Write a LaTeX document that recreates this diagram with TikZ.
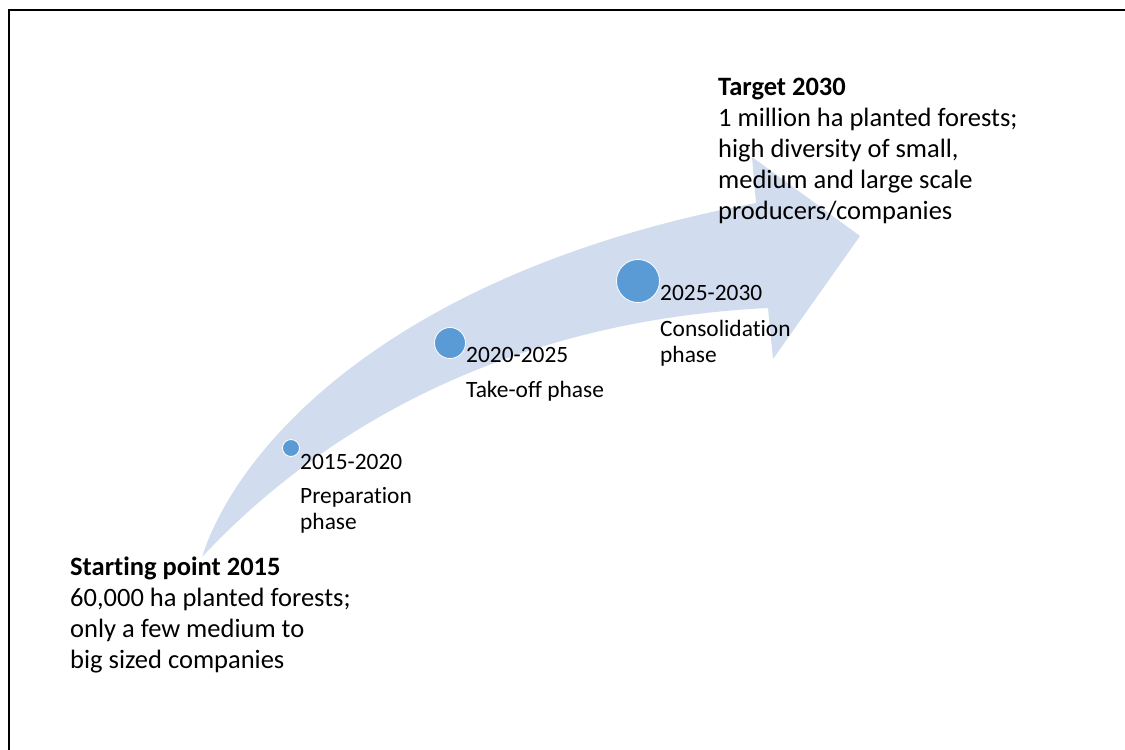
\documentclass[tikz,border=0pt]{standalone}
\usepackage{fontspec}
\setmainfont{Carlito}[Ligatures={NoCommon,NoContextual}]
\definecolor{bandblue}{RGB}{209,220,239}
\definecolor{dotblue}{RGB}{91,155,213}
\begin{document}
\begin{tikzpicture}[x=1pt,y=-1pt,
  milestone/.style={circle, fill=dotblue, draw=white, line width=0.8pt, inner sep=0pt},
  mainline/.style={anchor=base west, inner sep=0pt, font=\fontsize{26.5}{31}\selectfont},
  headline/.style={mainline, font=\fontsize{26.5}{31}\selectfont\bfseries},
  phaseline/.style={anchor=base west, inner sep=0pt, font=\fontsize{23.4}{27}\selectfont},
]
\useasboundingbox (0,0) rectangle (1125,750);
\fill[white] (0,0) rectangle (1125,750);
% frame edges
\draw[line width=2.5pt] (9,750) -- (9,10) -- (1125,10);

% curved growth arrow
\fill[bandblue] (202,557) .. controls (240,440) and (400,270) .. (756,203)
  -- (752,157) -- (860,236) -- (773,359) -- (768,308)
  .. controls (520,320) and (330,420) .. (202,557) -- cycle;

% milestones
\node[milestone, minimum size=17pt] (m1) at (291,448) {};
\node[milestone, minimum size=31pt] (m2) at (450,343) {};
\node[milestone, minimum size=43pt] (m3) at (638,281) {};

% phase labels
\node[phaseline] (p1a) at (300,469) {2015-2020};
\node[phaseline] (p1b) at (300,503) {Preparation};
\node[phaseline] (p1c) at (300,529) {phase};
\node[phaseline] (p2a) at (466,362) {2020-2025};
\node[phaseline] (p2b) at (466,397) {Take-off phase};
\node[phaseline] (p3a) at (660,300) {2025-2030};
\node[phaseline] (p3b) at (660,336) {Consolidation};
\node[phaseline] (p3c) at (660,362) {phase};

% starting point
\node[headline] (s1) at (70,575) {Starting point 2015};
\node[mainline] (s2) at (70,606) {60,000 ha planted forests;};
\node[mainline] (s3) at (70,637) {only a few medium to};
\node[mainline] (s4) at (70,668) {big sized companies};

% target
\node[headline] (t1) at (718,95) {Target 2030};
\node[mainline] (t2) at (718,126) {1 million ha planted forests;};
\node[mainline] (t3) at (718,157) {high diversity of small,};
\node[mainline] (t4) at (718,188) {medium and large scale};
\node[mainline] (t5) at (718,219) {producers/companies};
\end{tikzpicture}
\end{document}
